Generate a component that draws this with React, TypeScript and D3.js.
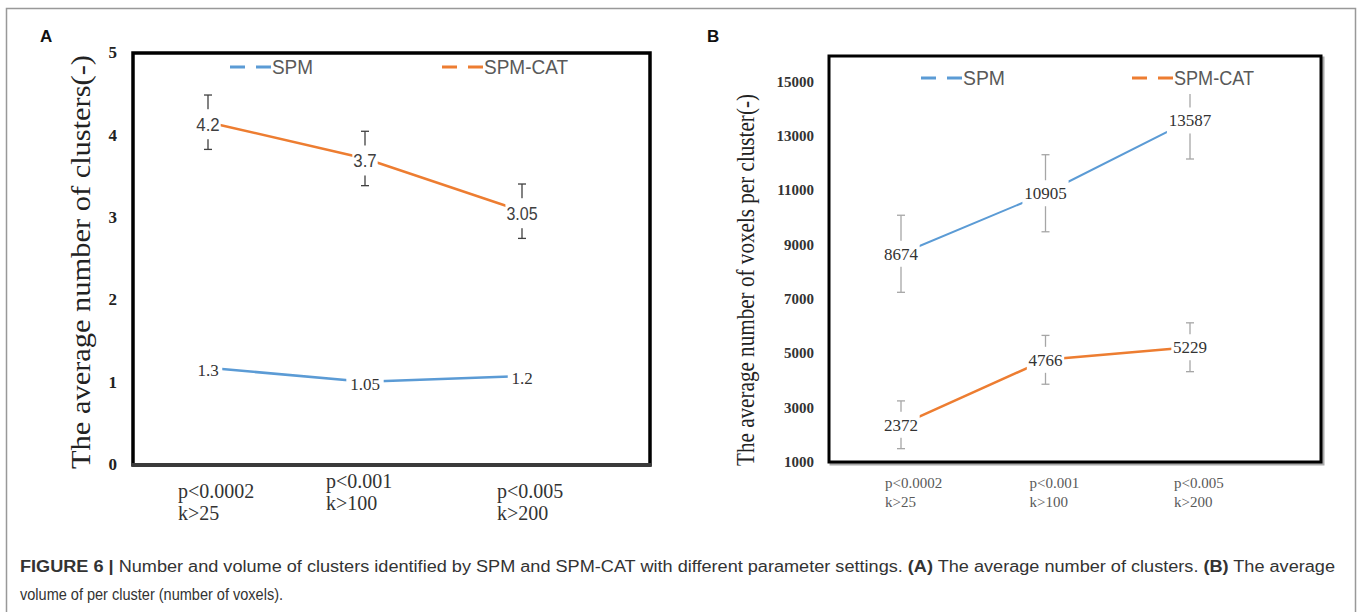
import React from "react";
import * as d3 from "d3";

// categories (threshold settings)
const categories = ["p<0.0002|k>25", "p<0.001|k>100", "p<0.005|k>200"];

// panel A: average number of clusters
const spmA = [1.18, 1.01, 1.08];
const spmALabels = ["1.3", "1.05", "1.2"];
const catA = [4.16, 3.72, 3.08];
const catALabels = ["4.2", "3.7", "3.05"];
const catAErr = [0.33, 0.33, 0.33];
const ticksA = [0, 1, 2, 3, 4, 5];

// panel B: average voxels per cluster
const spmB = [8674, 10905, 13587];
const spmBErr = [1420, 1420, 1420];
const catB = [2372, 4766, 5229];
const catBErr = [880, 900, 900];
const ticksB = [1000, 3000, 5000, 7000, 9000, 11000, 13000, 15000];

const BLUE = "#5B9BD5";
const ORANGE = "#ED7D31";
const SERIF = "'Liberation Serif', 'DejaVu Serif', serif";
const NARROW = "'Liberation Sans Narrow', 'Arial Narrow', 'Liberation Sans', sans-serif";
const SANS = "'Liberation Sans', Arial, sans-serif";

function ErrBars({ x, y, vals, errs, color, cap }) {
  return (
    <g stroke={color} strokeWidth={1.3}>
      {vals.map((v, i) => {
        const cx = x(categories[i]);
        const y1 = y(v + errs[i]);
        const y2 = y(v - errs[i]);
        return (
          <g key={i}>
            <line x1={cx} x2={cx} y1={y1} y2={y2} />
            <line x1={cx - cap} x2={cx + cap} y1={y1} y2={y1} />
            <line x1={cx - cap} x2={cx + cap} y1={y2} y2={y2} />
          </g>
        );
      })}
    </g>
  );
}

function DataLabels({ x, y, vals, labels, font, size, color, dy = 0, boxH, squeeze = 0 }) {
  return (
    <g>
      {vals.map((v, i) => {
        const cx = x(categories[i]);
        const cy = y(v) + dy;
        const w = squeeze ? labels[i].length * size * squeeze + 2 : labels[i].length * size * 0.52 + 2;
        return (
          <g key={i}>
            <rect x={cx - w / 2} y={cy - boxH / 2} width={w} height={boxH} fill="#fff" />
            <text
              x={cx}
              y={cy}
              dy="0.35em"
              textAnchor="middle"
              fontFamily={font}
              fontSize={size}
              fill={color}
              textLength={squeeze ? w - 2 : undefined}
              lengthAdjust="spacingAndGlyphs"
            >
              {labels[i]}
            </text>
          </g>
        );
      })}
    </g>
  );
}

function Legend({ x, y, color, label, len }) {
  return (
    <g>
      <line x1={x} x2={x + 41} y1={y} y2={y} stroke={color} strokeWidth={3} strokeDasharray="15,11" />
      <text x={x + 42} y={y} dy="0.35em" fontFamily={NARROW} fontSize={20} fill="#595959" textLength={len} lengthAdjust="spacingAndGlyphs">
        {label}
      </text>
    </g>
  );
}

export default function App() {
  // ---- panel A ----
  const xA = d3.scalePoint().domain(categories).range([208, 522]);
  const yA = d3.scaleLinear().domain([0, 5]).range([465, 53]);
  const lineA = d3.line().x((d, i) => xA(categories[i])).y((d) => yA(d));

  // ---- panel B ----
  const xB = d3.scalePoint().domain(categories).range([901, 1190]);
  const yB = d3.scaleLinear().domain([1000, 16000]).range([462, 55]);
  const lineB = d3.line().x((d, i) => xB(categories[i])).y((d) => yB(d));

  return (
    <svg width={1357} height={612} style={{ position: "absolute", left: 0, top: 0, background: "#fff" }}>
      {/* outer figure frame */}
      <path d="M6.5,620 V8.5 H1355.5 V620" fill="none" stroke="#999" strokeWidth={1.5} />

      {/* ================= A ================= */}
      <text x={40} y={42} fontFamily={SANS} fontWeight="bold" fontSize={17} fill="#111">A</text>
      <rect x={133} y={53} width={517} height={412} fill="#fff" stroke="#000" strokeWidth={3.5} />
      <line x1={132} x2={651} y1={465} y2={465} stroke="#3a3a3a" strokeWidth={4} />

      {ticksA.map((t) => (
        <text key={t} x={117} y={yA(t)} dy="0.3em" textAnchor="end" fontFamily={SERIF} fontWeight="bold" fontSize={17} fill="#222">
          {t}
        </text>
      ))}
      <text transform="translate(90,262) rotate(-90)" textAnchor="middle" fontFamily={SERIF} fontSize={28} fill="#222" textLength={414} lengthAdjust="spacingAndGlyphs">
        The average number of clusters(-)
      </text>
      {categories.map((c, i) => {
        const [l1, l2] = c.split("|");
        const lx = xA(c) - 30 + (i === 1 ? -9 : i === 2 ? 5 : 0);
        return (
          <text key={c} x={lx} y={i === 1 ? 488 : 498} fontFamily={SERIF} fontSize={20} fill="#333">
            <tspan>{l1}</tspan>
            <tspan x={lx} dy={22}>{l2}</tspan>
          </text>
        );
      })}

      <Legend x={230} y={67} color={BLUE} label="SPM" len={41} />
      <Legend x={442} y={67} color={ORANGE} label="SPM-CAT" len={84} />

      <ErrBars x={xA} y={yA} vals={catA} errs={catAErr} color="#404040" cap={4} />
      <path d={lineA(catA)} fill="none" stroke={ORANGE} strokeWidth={2.5} />
      <path d={lineA(spmA)} fill="none" stroke={BLUE} strokeWidth={2.5} />
      <DataLabels x={xA} y={yA} vals={catA} labels={catALabels} font={NARROW} size={19} color="#404040" dy={2} boxH={30} squeeze={0.41} />
      <DataLabels x={xA} y={yA} vals={spmA} labels={spmALabels} font={SERIF} size={17} color="#333" dy={2} boxH={16} />

      {/* ================= B ================= */}
      <text x={707} y={42} fontFamily={SANS} fontWeight="bold" fontSize={17} fill="#111">B</text>
      <rect x={831} y={58} width={492} height={406} fill="none" stroke="#aaa" strokeWidth={3} />
      <rect x={829} y={56} width={492} height={406} fill="#fff" stroke="#000" strokeWidth={3} />

      {ticksB.map((t) => (
        <text key={t} x={814} y={yB(t)} dy="0.32em" textAnchor="end" fontFamily={SERIF} fontWeight="bold" fontSize={15} fill="#333">
          {t}
        </text>
      ))}
      <text transform="translate(754,280) rotate(-90)" textAnchor="middle" fontFamily={SERIF} fontSize={26} fill="#222" textLength={372} lengthAdjust="spacingAndGlyphs">
        The average number of  voxels per cluster(-)
      </text>
      {categories.map((c) => {
        const [l1, l2] = c.split("|");
        return (
          <text key={c} x={xB(c) - 16} y={488} fontFamily={SERIF} fontSize={15} fill="#595959">
            <tspan>{l1}</tspan>
            <tspan x={xB(c) - 16} dy={19}>{l2}</tspan>
          </text>
        );
      })}

      <ErrBars x={xB} y={yB} vals={spmB} errs={spmBErr} color="#A6A6A6" cap={4} />
      <ErrBars x={xB} y={yB} vals={catB} errs={catBErr} color="#A6A6A6" cap={4} />
      <rect x={900} y={66} width={380} height={28} fill="#fff" />
      <Legend x={921} y={78} color={BLUE} label="SPM" len={42} />
      <Legend x={1132} y={78} color={ORANGE} label="SPM-CAT" len={80} />
      <path d={lineB(spmB)} fill="none" stroke={BLUE} strokeWidth={2} />
      <path d={lineB(catB)} fill="none" stroke={ORANGE} strokeWidth={2.5} />
      <DataLabels x={xB} y={yB} vals={spmB} labels={spmB.map(String)} font={SERIF} size={17} color="#333" boxH={26} />
      <DataLabels x={xB} y={yB} vals={catB} labels={catB.map(String)} font={SERIF} size={17} color="#333" boxH={26} />

      {/* ================= caption ================= */}
      <text x={20} y={572} fontFamily={SANS} fontSize={16} fill="#333" textLength={1315} lengthAdjust="spacingAndGlyphs">
        <tspan fontWeight="bold">FIGURE 6 | </tspan>
        <tspan>Number and volume of clusters identified by SPM and SPM-CAT with different parameter settings. </tspan>
        <tspan fontWeight="bold">(A)</tspan>
        <tspan> The average number of clusters. </tspan>
        <tspan fontWeight="bold">(B)</tspan>
        <tspan> The average</tspan>
      </text>
      <text x={20} y={600} fontFamily={SANS} fontSize={16} fill="#333" textLength={263} lengthAdjust="spacingAndGlyphs">
        volume of per cluster (number of voxels).
      </text>
    </svg>
  );
}
